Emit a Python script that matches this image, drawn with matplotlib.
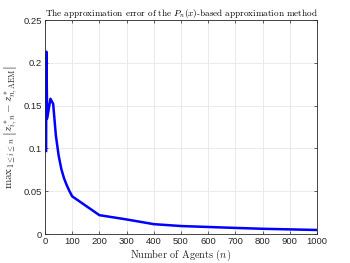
import numpy as np
import matplotlib.pyplot as plt

plt.rcParams['font.family'] = ['Liberation Sans', 'DejaVu Sans']
plt.rcParams['mathtext.fontset'] = 'cm'

# 数据
n_agents = [4, 5, 8, 20, 30, 40, 50, 60, 70, 80, 90, 100,
            200, 300, 400, 500, 600, 700, 800, 900, 1000]
max_err = [0.097, 0.213, 0.135, 0.158, 0.152, 0.115, 0.092, 0.076,
           0.065, 0.057, 0.050, 0.044, 0.022, 0.017, 0.0115, 0.0093,
           0.0082, 0.0071, 0.0061, 0.0054, 0.0047]
x_ticks = list(range(0, 1001, 100))
y_ticks = [0, 0.05, 0.1, 0.15, 0.2, 0.25]
y_tick_labels = ['0', '0.05', '0.1', '0.15', '0.2', '0.25']

fig = plt.figure(figsize=(3.5, 2.63), dpi=100)
ax = fig.add_axes([45 / 350, 1 - 234 / 263, 272 / 350, 214 / 263])

ax.plot(n_agents, max_err, color='#0000ff', linewidth=1.8)

ax.set_xlim(0, 1000)
ax.set_ylim(0, 0.25)
ax.set_xticks(x_ticks)
ax.set_yticks(y_ticks)
ax.set_yticklabels(y_tick_labels)
ax.tick_params(direction='in', length=2.5, width=0.5, labelsize=6.8,
               colors='#262626', pad=2, top=True, right=True)
ax.grid(True, color='#e6e6e6', linewidth=0.6)
ax.set_axisbelow(True)
for s in ax.spines.values():
    s.set_linewidth(0.6)
    s.set_color('#262626')

ax.set_title('The approximation error of the $P_n(x)$-based approximation method',
             fontsize=6.6, family='cmr10', pad=3)
ax.set_xlabel('Number of Agents $(n)$', fontsize=7.4, family='cmr10',
              color='#262626', labelpad=1)
ax.set_ylabel(r'$\mathrm{max}_{1\leq i\leq n}\ \left|z^*_{i,n}-z^*_{n,\mathrm{AEM}}\right|$',
              fontsize=8.0, color='#262626', labelpad=3)

plt.savefig('out.png', dpi=100)
